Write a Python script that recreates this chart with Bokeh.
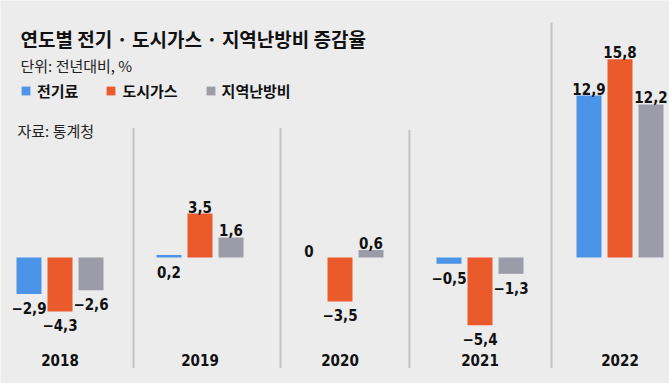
from bokeh.plotting import figure
from bokeh.models import ColumnDataSource, Label, Legend, LegendItem
from bokeh.core.properties import value
from bokeh.embed import file_html
from bokeh.resources import INLINE

# ---- data ----
years = ["2018", "2019", "2020", "2021", "2022"]
electricity = [-2.9, 0.2, 0.0, -0.5, 12.9]
city_gas = [-4.3, 3.5, -3.5, -5.4, 15.8]
district_heating = [-2.6, 1.6, 0.6, -1.3, 12.2]
series_names = ["전기료", "도시가스", "지역난방비"]
title_text = "연도별 전기 · 도시가스 · 지역난방비 증감율"
unit_text = "단위: 전년대비, %"
source_text = "자료: 통계청"

# ---- style ----
colors = ["#4b94e8", "#ea5a2a", "#9b9ca7"]
bg = "#ececec"
num_font = value("DejaVu Sans Condensed, Roboto")
kr_font = "Noto Sans CJK KR"

W, H = 669, 383
px_per_group = 140.0
px_per_unit = 12.55
zero_px_from_top = 257.0
first_center_px = 59.5

x0 = -first_center_px / px_per_group
x1 = x0 + W / px_per_group
y1 = zero_px_from_top / px_per_unit
y0 = -(H - zero_px_from_top) / px_per_unit

p = figure(width=W, height=H, x_range=(x0, x1), y_range=(y0, y1),
           output_backend="svg", toolbar_location=None, min_border=0)
p.axis.visible = False
p.grid.visible = False
p.outline_line_color = None
p.background_fill_color = bg
p.border_fill_color = bg

# separators (between groups, as in reference)
sep_x = [0.525, 1.575, 2.496, 3.511]
sep_top = [10.28, 10.28, 10.2, 18.7]
p.segment(x0=sep_x, x1=sep_x, y0=[-8.76] * 4, y1=sep_top,
          line_color="#9a9a9a", line_width=2, line_dash="1 1")

offset = 31.0 / px_per_group
bar_w = 25.0 / px_per_group
series = [electricity, city_gas, district_heating]

renderers = []
up_x, up_y, up_t = [], [], []
dn_x, dn_y, dn_t = [], [], []

def fmt(v):
    if v == 0:
        return "0"
    s = f"{abs(v):.1f}".replace(".", ",")
    return ("−" + s) if v < 0 else s

# label placement: values shown above unless negative or tiny positive bar
label_below = {(0, 1)}  # (series index, year index) of 0.2 shown under the bar

for si, vals in enumerate(series):
    xs = [i + (si - 1) * offset for i in range(len(years))]
    src = ColumnDataSource(dict(x=xs, top=vals, bottom=[0] * len(vals)))
    r = p.vbar(x="x", top="top", bottom="bottom", width=bar_w, source=src,
               fill_color=colors[si], line_color=None)
    renderers.append(r)
    for yi, v in enumerate(vals):
        if v < 0 or (si, yi) in label_below:
            dn_x.append(xs[yi]); dn_y.append(min(v, 0)); dn_t.append(fmt(v))
        else:
            up_x.append(xs[yi]); up_y.append(v); up_t.append(fmt(v))

p.text(x=up_x, y=up_y, text=up_t, text_align="center", text_baseline="bottom",
       y_offset=-1, text_font=num_font, text_font_style="bold",
       text_font_size="15px", text_color="#111111")
p.text(x=dn_x, y=dn_y, text=dn_t, text_align="center", text_baseline="top",
       y_offset=8, text_font=num_font, text_font_style="bold",
       text_font_size="15px", text_color="#111111")

# year labels
p.text(x=list(range(len(years))), y=[-8.2] * len(years), text=years,
       text_align="center", text_baseline="middle", text_font=num_font,
       text_font_style="bold", text_font_size="15px", text_color="#111111")

# titles
p.add_layout(Label(x=20, y=H - 38, x_units="screen", y_units="screen",
                   text=title_text, text_font=kr_font, text_font_style="bold",
                   text_font_size="19px", text_baseline="middle",
                   text_color="#111111"))
p.add_layout(Label(x=20, y=H - 65, x_units="screen", y_units="screen",
                   text=unit_text, text_font=kr_font, text_font_size="15px",
                   text_baseline="middle", text_color="#222222"))
p.add_layout(Label(x=17, y=H - 130, x_units="screen", y_units="screen",
                   text=source_text, text_font=kr_font, text_font_size="15px",
                   text_baseline="middle", text_color="#222222"))

legend = Legend(items=[LegendItem(label=n, renderers=[r])
                       for n, r in zip(series_names, renderers)],
                orientation="horizontal", location=(20, H - 101),
                glyph_width=11, glyph_height=11, label_standoff=6, spacing=27,
                label_text_font=kr_font, label_text_font_style="bold",
                label_text_font_size="15px", label_text_color="#111111",
                border_line_color=None, background_fill_alpha=0,
                padding=0, margin=0, label_height=11)
p.add_layout(legend)

open("out.html", "w").write(file_html(p, INLINE))
